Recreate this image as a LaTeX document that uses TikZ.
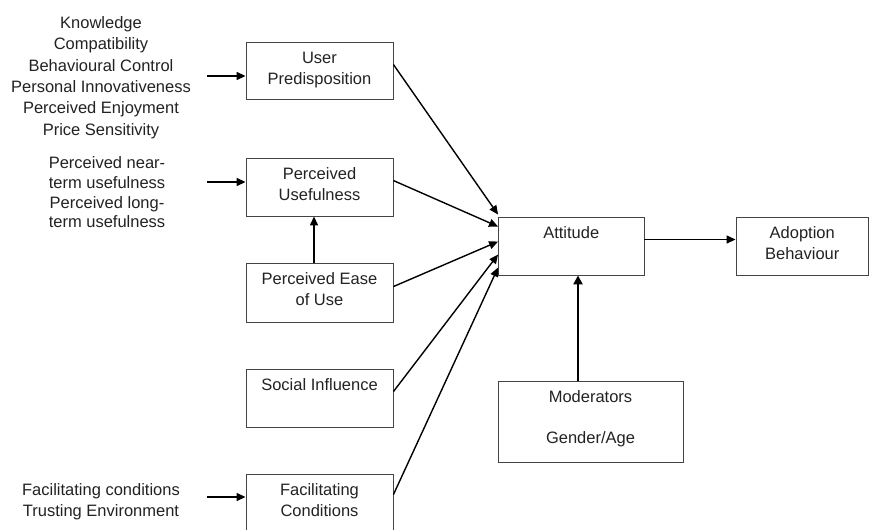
\documentclass[tikz,border=0pt]{standalone}
\usepackage{fontspec}
\setmainfont{Liberation Sans}
\usetikzlibrary{arrows.meta}
\definecolor{ink}{HTML}{222222}
\definecolor{frame}{HTML}{444444}
% box content: fixed-size parbox, text set from the top
\newcommand\boxtext[3]{\parbox[c][#2][t]{#1}{\centering\vspace*{6.7pt}\strut #3\par}}

\begin{document}
\begin{tikzpicture}[x=1pt,y=-1pt,
  box/.style={draw=frame, line width=0.9pt, inner sep=0pt, text=ink,
              font=\fontsize{16.5}{21}\selectfont},
  side/.style={align=center, inner sep=0pt, anchor=north, text=ink},
  arr/.style={line width=1.4pt, -{Triangle[length=9pt,width=8pt]}},
  thickarr/.style={line width=2.6pt, -{Triangle[length=9pt,width=9pt]}}]
\useasboundingbox (0,0) rectangle (870,530);

% antecedent lists
\node[side, font=\fontsize{16.5}{21.3}\selectfont] (drivers) at (101,13.5)
  {\strut Knowledge\\Compatibility\\Behavioural Control\\Personal Innovativeness\\Perceived Enjoyment\\Price Sensitivity};
\node[side, font=\fontsize{16.5}{19.8}\selectfont] (usefulness) at (107,154.5)
  {\strut Perceived near-\\term usefulness\\Perceived long-\\term usefulness};
\node[side, font=\fontsize{16.5}{21}\selectfont] (facilitating) at (101,480.2)
  {\strut Facilitating conditions\\Trusting Environment};

% constructs
\node[box] (up)    at (319.5,70.5)  {\boxtext{147pt}{57pt}{User\\Predisposition}};
\node[box] (pu)    at (319.5,187)   {\boxtext{147pt}{58pt}{Perceived\\Usefulness}};
\node[box] (peou)  at (319.5,292.5) {\boxtext{147pt}{59pt}{Perceived Ease\\of Use}};
\node[box] (si)    at (319.5,398)   {\boxtext{147pt}{58pt}{Social Influence}};
\node[box] (fc)    at (319.5,503)   {\boxtext{147pt}{58pt}{Facilitating\\Conditions}};
\node[box] (att)   at (571.25,246)  {\boxtext{145.5pt}{58pt}{Attitude}};
\node[box] (adopt) at (802.25,246)  {\boxtext{132.5pt}{58pt}{Adoption\\Behaviour}};
\node[box] (mod)   at (590.5,421.5) {\boxtext{185pt}{81pt}{Moderators\\[20pt]Gender/Age}};

% inputs from the lists
\coordinate (in1) at (207,76);
\coordinate (in2) at (207,182);
\coordinate (in3) at (207,497);
\draw[arr] (in1) -- (up.west |- in1);
\draw[arr] (in2) -- (pu.west |- in2);
\draw[arr] (in3) -- (fc.west |- in3);

% paths into attitude
\draw[arr] ([yshift=-23pt]up.north east)   -- ([yshift=2pt]att.north west);
\draw[arr] ([yshift=-23pt]pu.north east)   -- ([yshift=-10pt]att.north west);
\draw[arr] ([yshift=-24pt]peou.north east) -- ([yshift=-25pt]att.north west);
\draw[arr] ([yshift=-23pt]si.north east)   -- ([yshift=-38pt]att.north west);
\draw[arr] ([yshift=-21pt]fc.north east)   -- ([yshift=-51pt]att.north west);

% ease of use -> usefulness
\draw[arr] ([xshift=-5.5pt]peou.north) -- ([xshift=-5.5pt]pu.south);

% attitude -> behaviour
\draw[arr] ([yshift=6.5pt]att.east) -- ([yshift=6.5pt]adopt.west);

% moderators
\draw[thickarr] ([xshift=-12.5pt]mod.north) -- ([xshift=-12.5pt]mod.north |- att.south);
\end{tikzpicture}
\end{document}
